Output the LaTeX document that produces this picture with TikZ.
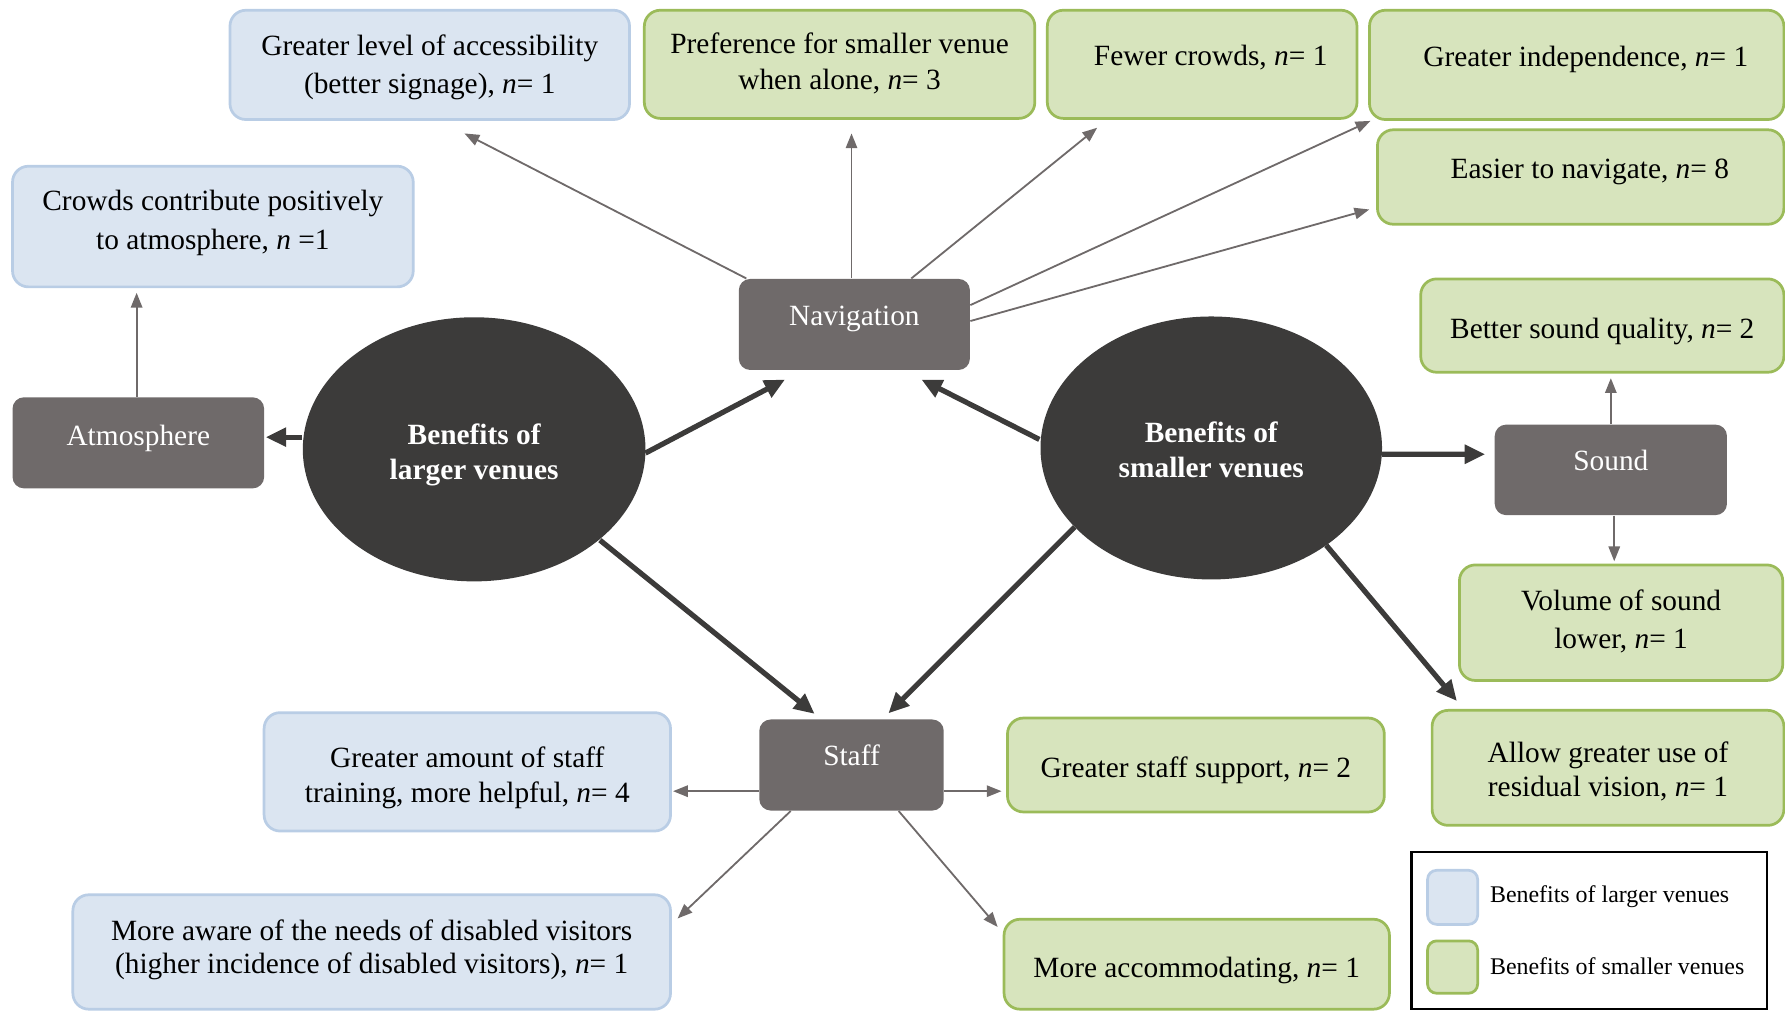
\documentclass[tikz,border=0pt]{standalone}
\usepackage{fontspec}
\setmainfont{Liberation Serif}
\usetikzlibrary{arrows.meta,shapes.geometric,calc}
\definecolor{bluefill}{HTML}{DBE5F1}
\definecolor{bluedraw}{HTML}{B9CDE5}
\definecolor{greenfill}{HTML}{D7E4BD}
\definecolor{greendraw}{HTML}{9BBB59}
\definecolor{darkbox}{HTML}{6F6A6A}
\definecolor{hubcol}{HTML}{3C3B3A}
\definecolor{arrcol}{HTML}{6F6A6A}
\newcommand\mainfs{\fontsize{12.9pt}{16pt}\selectfont}
\newcommand\legfs{\fontsize{10.5pt}{12.6pt}\selectfont}
\newcommand\bxt[3]{\raisebox{#2}[0pt][0pt]{\hspace*{#1}\begin{tabular}{@{}c@{}}#3\end{tabular}}}
\begin{document}
\begin{tikzpicture}[x=0.5pt,y=-0.5pt,
  lbox/.style={draw=bluedraw,fill=bluefill,line width=1.2pt,rounded corners=7pt,inner sep=0pt,font=\mainfs},
  sbox/.style={draw=greendraw,fill=greenfill,line width=1.2pt,rounded corners=7pt,inner sep=0pt,font=\mainfs},
  dbox/.style={fill=darkbox,text=white,rounded corners=5pt,inner sep=0pt,font=\mainfs},
  hub/.style={ellipse,fill=hubcol,text=white,inner sep=0pt,font=\mainfs\bfseries},
  bigarr/.style={draw=hubcol,line width=2.3pt,-{Triangle[length=9pt,width=8pt]}},
  smallarr/.style={draw=arrcol,line width=0.8pt,-{Triangle[length=6.5pt,width=5pt]}},
  wh/.style 2 args={minimum width=#1,minimum height=#2},
  legtext/.style={font=\legfs,anchor=base west,inner sep=0pt},
]
\useasboundingbox (0,0) rectangle (1568,888);

% boxes of larger venues (blue)
\node[lbox,wh={175.5pt}{48pt}] (acc) at (377.5,57) {\bxt{0pt}{-4pt}{Greater level of accessibility\\[0.5pt](better signage), \textit{n}= 1}};
\node[lbox,wh={176pt}{53pt}] (crowds) at (187,199) {\bxt{0pt}{-1.3pt}{Crowds contribute positively\\[1.25pt]to atmosphere, \textit{n} =1}};
\node[lbox,wh={178.5pt}{52pt}] (amount) at (410.5,678) {\bxt{0pt}{-5.5pt}{Greater amount of staff\\[-0.6pt]training, more helpful, \textit{n}= 4}};
\node[lbox,wh={262.5pt}{50.25pt}] (aware) at (326.5,836.25) {\bxt{0pt}{-1.9pt}{More aware of the needs of disabled visitors\\[-1.35pt](higher incidence of disabled visitors), \textit{n}= 1}};

% boxes of smaller venues (green)
\node[sbox,wh={171.5pt}{47.5pt}] (pref) at (737.5,56.5) {\bxt{0pt}{-2.9pt}{Preference for smaller venue\\[-0.5pt]when alone, \textit{n}= 3}};
\node[sbox,wh={136pt}{47.5pt}] (fewer) at (1056,56.5) {\bxt{7.5pt}{-0.2pt}{Fewer crowds, \textit{n}= 1}};
\node[sbox,wh={182pt}{48pt}] (indep) at (1385,57) {\bxt{8pt}{-0.3pt}{Greater independence, \textit{n}= 1}};
\node[sbox,wh={178.5pt}{41.5pt}] (easier) at (1388.5,155.5) {\bxt{8pt}{-0.55pt}{Easier to navigate, \textit{n}= 8}};
\node[sbox,wh={159.5pt}{41pt}] (better) at (1407.5,286) {\bxt{0pt}{-5.55pt}{Better sound quality, \textit{n}= 2}};
\node[sbox,wh={142pt}{50.75pt}] (volume) at (1424,547) {\bxt{0pt}{-2.8pt}{Volume of sound\\[0.85pt]lower, \textit{n}= 1}};
\node[sbox,wh={154.5pt}{50.5pt}] (allow) at (1412.5,674.5) {\bxt{0pt}{-5.05pt}{Allow greater use of\\[-0.9pt]residual vision, \textit{n}= 1}};
\node[sbox,wh={165.5pt}{41.25pt}] (gss) at (1050.5,672) {\bxt{0pt}{-5.3pt}{Greater staff support, \textit{n}= 2}};
\node[sbox,wh={169.25pt}{39.5pt}] (accom) at (1051.25,847) {\bxt{0pt}{-5.55pt}{More accommodating, \textit{n}= 1}};

% theme boxes
\node[dbox,wh={110.5pt}{40pt}] (atmo) at (121.5,389) {\bxt{0pt}{-0.9pt}{Atmosphere}};
\node[dbox,wh={101.5pt}{40pt}] (nav) at (750.5,285) {\bxt{0pt}{-0.2pt}{Navigation}};
\node[dbox,wh={102pt}{39.75pt}] (sound) at (1415,412.75) {\bxt{0pt}{0pt}{Sound}};
\node[dbox,wh={81pt}{40pt}] (staff) at (748,672) {\bxt{0pt}{0pt}{Staff}};

% hubs
\node[hub,wh={150.5pt}{116pt}] (L) at (416.5,394.7) {\bxt{0pt}{-5.5pt}{Benefits of\\[-0.6pt]larger venues}};
\node[hub,wh={150pt}{115.5pt}] (S) at (1064,393.5) {\bxt{0pt}{-4.9pt}{Benefits of\\[-0.6pt]smaller venues}};

% legend
\node[draw=black,line width=1pt,wh={156pt}{69pt},inner sep=0pt] (legend) at (1396,817.5) {};
\node[draw=bluedraw,fill=bluefill,line width=1.2pt,rounded corners=4pt,wh={22pt}{23.75pt},inner sep=0pt] (swl) at (1276,788.25) {};
\node[draw=greendraw,fill=greenfill,line width=1.2pt,rounded corners=4pt,wh={22pt}{23pt},inner sep=0pt] (sws) at (1276,849.5) {};
\node[legtext] (legl) at (1308.5,792.6) {Benefits of larger venues};
\node[legtext] (legs) at (1308.5,856) {Benefits of smaller venues};

% thick connectors from hubs
\draw[bigarr] ($(L.center)+(-151.5,-10.7)$) -- ($(atmo.east)+(1,-5)$);
\draw[bigarr] ($(L.center)+(150.5,3.3)$) -- ($(nav.south west)+(41,8)$);
\draw[bigarr] ($(L.center)+(110.5,79.8)$) -- ($(staff.north west)+(49,-4.5)$);
\draw[bigarr] ($(S.center)+(-151,-7.5)$) -- ($(nav.south east)+(-43,8)$);
\draw[bigarr] ($(S.center)+(150,5.5)$) -- ($(sound.west)+(-8,-13.7)$);
\draw[bigarr] ($(S.center)+(-120,69.5)$) -- ($(staff.north east)+(-49,-5)$);
\draw[bigarr] ($(S.center)+(101,85.5)$) -- ($(allow.north west)+(23,-7)$);

% thin connectors from themes
\draw[smallarr] ($(nav.north west)+(7,0)$) -- ($(acc.south)+(30.5,11)$);
\draw[smallarr] ($(nav.north)+(-2.5,0)$) -- ($(pref.south)+(10.5,12)$);
\draw[smallarr] ($(nav.north)+(50,0)$) -- ($(fewer.south west)+(45,7)$);
\draw[smallarr] ($(nav.east)+(0,-17)$) -- ($(indep.south west)+(2,0)$);
\draw[smallarr] ($(nav.east)+(0,-3)$) -- ($(easier.west)+(-6,28.5)$);
\draw[smallarr] ($(atmo.north)+(-1.5,0)$) -- ($(crowds.south)+(-67,4)$);
\draw[smallarr] (sound.north) -- ($(better.south)+(7.5,4)$);
\draw[smallarr] ($(sound.south)+(3,0)$) -- ($(volume.north)+(-6,-2)$);
\draw[smallarr] ($(staff.west)+(0,23)$) -- ($(amount.east)+(1,17)$);
\draw[smallarr] ($(staff.east)+(0,23)$) -- ($(gss.west)+(-4,23)$);
\draw[smallarr] ($(staff.south west)+(28,0)$) -- ($(aware.north east)+(5,22)$);
\draw[smallarr] ($(staff.south east)+(-40,0)$) -- ($(accom.north west)+(-4.4,8)$);
\end{tikzpicture}
\end{document}
